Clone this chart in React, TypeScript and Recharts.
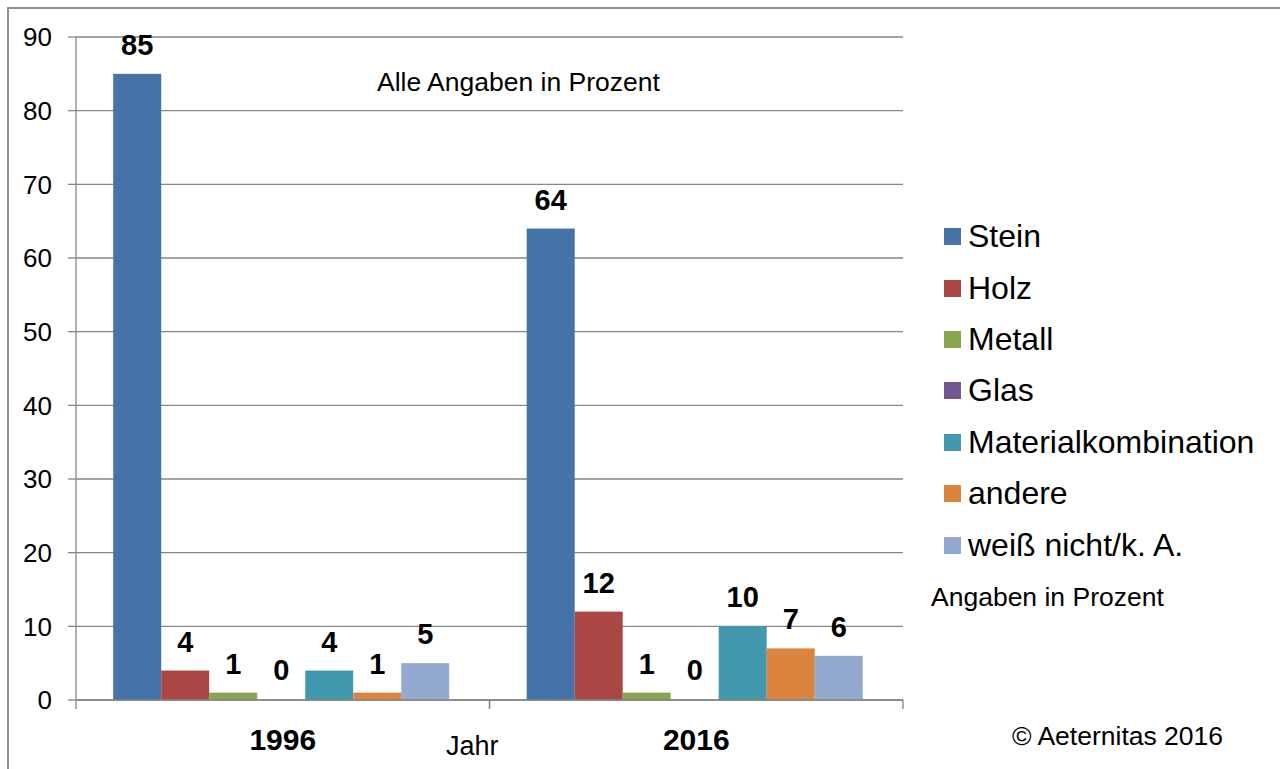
import { Bar, BarChart, CartesianGrid, LabelList, XAxis, YAxis } from "recharts"

const years = ["1996", "2016"]
const stein = [85, 64]
const holz = [4, 12]
const metall = [1, 1]
const glas = [0, 0]
const materialkombination = [4, 10]
const andere = [1, 7]
const weissNicht = [5, 6]
const yTicks = [0, 10, 20, 30, 40, 50, 60, 70, 80, 90]

const series = [
  { key: "stein", name: "Stein", values: stein, color: "#4572A7" },
  { key: "holz", name: "Holz", values: holz, color: "#AA4643" },
  { key: "metall", name: "Metall", values: metall, color: "#89A54E" },
  { key: "glas", name: "Glas", values: glas, color: "#71588F" },
  { key: "kombi", name: "Materialkombination", values: materialkombination, color: "#4198AF" },
  { key: "andere", name: "andere", values: andere, color: "#DB843D" },
  { key: "weiss", name: "weiß nicht/k. A.", values: weissNicht, color: "#93A9CF" },
]

const data = years.map((year, i) => {
  const row: any = { year }
  series.forEach((s) => (row[s.key] = s.values[i]))
  return row
})

const font = "'Liberation Sans', Arial, sans-serif"
const axisGray = "#868686"

const YearTick = (props: any) => {
  const { x, y, payload } = props
  const half = payload.offset || 0
  return (
    <g>
      <line x1={x - half} y1={y - 8} x2={x - half} y2={y + 1} stroke={axisGray} strokeWidth={1.3} />
      <line x1={x + half} y1={y - 8} x2={x + half} y2={y + 1} stroke={axisGray} strokeWidth={1.3} />
      <text x={x} y={y + 42} textAnchor="middle" fontSize={30} fontWeight="bold" fill="#000" fontFamily={font}>
        {payload.value}
      </text>
    </g>
  )
}

// zero-height bars draw nothing but keep their label
const BarShape = (props: any) => {
  const { x, y, width, height, fill, value } = props
  if (!value) return <g />
  return <rect x={x} y={y} width={width} height={height} fill={fill} />
}

const textStyle: any = { position: "absolute", fontFamily: font, color: "#000", whiteSpace: "nowrap", lineHeight: 1 }

export default function App() {
  return (
    <div style={{ position: "absolute", left: 0, top: 0, width: 1280, height: 769, background: "#fff", overflow: "hidden" }}>
      <div style={{ position: "absolute", left: 7, top: 7, width: 1300, height: 800, borderTop: "2px solid #909090", borderLeft: "2px solid #909090" }} />
      <BarChart
        width={1280}
        height={769}
        data={data}
        margin={{ top: 37, right: 377, bottom: 29, left: 16 }}
        barCategoryGap="9%"
        barGap={0}
        style={{ position: "absolute", left: 0, top: 0 }}
      >
        <CartesianGrid vertical={false} stroke={axisGray} strokeWidth={1.3} />
        <XAxis dataKey="year" height={40} axisLine={{ stroke: axisGray, strokeWidth: 1.3 }} tickLine={false} tick={<YearTick />} interval={0} />
        <YAxis
          width={60}
          domain={[0, 90]}
          ticks={yTicks}
          interval={0}
          tickSize={8}
          tickMargin={16}
          axisLine={{ stroke: axisGray, strokeWidth: 1.3 }}
          tickLine={{ stroke: axisGray, strokeWidth: 1.3 }}
          tick={{ fontSize: 26, fill: "#000", fontFamily: font }}
        />
        {series.map((s) => (
          <Bar key={s.key} dataKey={s.key} name={s.name} fill={s.color} minPointSize={1} shape={<BarShape />} isAnimationActive={false}>
            <LabelList dataKey={s.key} position="top" offset={19} fill="#000" fontSize={29} fontWeight="bold" fontFamily={font} />
          </Bar>
        ))}
      </BarChart>
      <div style={{ position: "absolute", left: 944, top: 211, fontFamily: font }}>
        {series.map((s) => (
          <div key={s.key} style={{ display: "flex", alignItems: "center", height: 51.4 }}>
            <span style={{ width: 17, height: 17, background: s.color, marginRight: 7, display: "inline-block" }} />
            <span style={{ fontSize: 32, color: "#000", whiteSpace: "nowrap" }}>{s.name}</span>
          </div>
        ))}
      </div>
      <div style={{ ...textStyle, left: 377, top: 69, fontSize: 26.5 }}>Alle Angaben in Prozent</div>
      <div style={{ ...textStyle, left: 446, top: 733, fontSize: 27 }}>Jahr</div>
      <div style={{ ...textStyle, left: 931, top: 584, fontSize: 26.5 }}>Angaben in Prozent</div>
      <div style={{ ...textStyle, left: 1012, top: 723, fontSize: 26.5 }}>© Aeternitas 2016</div>
    </div>
  )
}
